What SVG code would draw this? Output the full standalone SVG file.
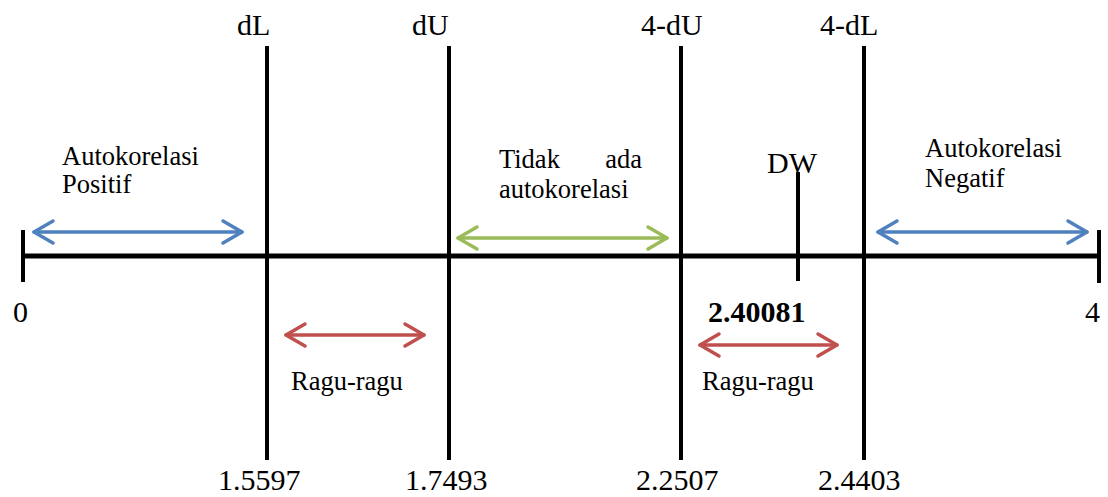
<svg xmlns="http://www.w3.org/2000/svg" width="1108" height="497" viewBox="0 0 1108 497">
  <style>
    text { font-family: "Liberation Serif", "Times New Roman", serif; fill: #000; }
    .lbl { font-size: 30px; }
    .note { font-size: 26.5px; }
    .axis { stroke: #000; stroke-width: 5; fill: none; }
    .bound { stroke: #000; stroke-width: 4; fill: none; }
    .arr { stroke-width: 3.5; fill: none; stroke-linecap: round; stroke-linejoin: round; }
    .blue { stroke: #4F81BD; }
    .green { stroke: #9BBB59; }
    .red { stroke: #C0504D; }
  </style>
  <rect width="1108" height="497" fill="#fff"/>

  <!-- axis with end ticks -->
  <g id="axis">
    <line class="axis" x1="21" y1="256" x2="1101" y2="256"/>
    <line class="bound" x1="23" y1="230" x2="23" y2="282"/>
    <line class="bound" x1="1099" y1="230" x2="1099" y2="283"/>
    <text class="lbl" x="13" y="322">0</text>
    <text class="lbl" x="1085" y="322">4</text>
  </g>

  <!-- critical bounds -->
  <g id="dL">
    <line class="bound" x1="267" y1="46" x2="267" y2="460"/>
    <text class="lbl" x="237" y="35">dL</text>
    <text class="lbl" x="218" y="490">1.5597</text>
  </g>
  <g id="dU">
    <line class="bound" x1="449" y1="46" x2="449" y2="460"/>
    <text class="lbl" x="412" y="35">dU</text>
    <text class="lbl" x="405" y="490">1.7493</text>
  </g>
  <g id="four-dU">
    <line class="bound" x1="681" y1="46" x2="681" y2="460"/>
    <text class="lbl" x="641" y="35">4-dU</text>
    <text class="lbl" x="636" y="490">2.2507</text>
  </g>
  <g id="four-dL">
    <line class="bound" x1="864" y1="46" x2="864" y2="460"/>
    <text class="lbl" x="820" y="35">4-dL</text>
    <text class="lbl" x="818" y="490">2.4403</text>
  </g>

  <!-- Durbin-Watson statistic -->
  <g id="DW">
    <line class="bound" x1="798" y1="172" x2="798" y2="281"/>
    <text class="lbl" x="767" y="173">DW</text>
    <text class="lbl" x="708" y="322" font-weight="bold" font-size="31">2.40081</text>
  </g>

  <!-- region labels -->
  <g id="positif">
    <text class="note" x="62" y="165">Autokorelasi</text>
    <text class="note" x="62" y="193">Positif</text>
  </g>
  <g id="tidak-ada">
    <text class="note" x="499" y="168">Tidak</text>
    <text class="note" x="642" y="168" text-anchor="end">ada</text>
    <text class="note" x="499" y="198">autokorelasi</text>
  </g>
  <g id="negatif">
    <text class="note" x="925" y="157">Autokorelasi</text>
    <text class="note" x="925" y="187">Negatif</text>
  </g>
  <g id="ragu-1">
    <text class="note" x="291" y="390">Ragu-ragu</text>
  </g>
  <g id="ragu-2">
    <text class="note" x="702" y="390">Ragu-ragu</text>
  </g>

  <!-- double-headed range arrows -->
  <g id="connectors">
    <g class="arr blue">
      <line x1="34" y1="232" x2="242" y2="232"/>
      <polyline points="53,221 34,232 53,243"/>
      <polyline points="223,221 242,232 223,243"/>
    </g>
    <g class="arr green">
      <line x1="458" y1="238" x2="667" y2="238"/>
      <polyline points="477,227 458,238 477,249"/>
      <polyline points="648,227 667,238 648,249"/>
    </g>
    <g class="arr blue">
      <line x1="878" y1="232" x2="1087" y2="232"/>
      <polyline points="897,221 878,232 897,243"/>
      <polyline points="1068,221 1087,232 1068,243"/>
    </g>
    <g class="arr red">
      <line x1="286" y1="335" x2="424" y2="335"/>
      <polyline points="305,324 286,335 305,346"/>
      <polyline points="405,324 424,335 405,346"/>
    </g>
    <g class="arr red">
      <line x1="700" y1="345" x2="837" y2="345"/>
      <polyline points="719,334 700,345 719,356"/>
      <polyline points="818,334 837,345 818,356"/>
    </g>
  </g>
</svg>
